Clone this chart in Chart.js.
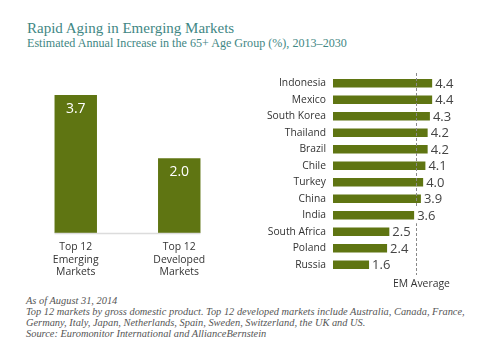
<!DOCTYPE html>
<html><head><meta charset="utf-8">
<script src="https://cdn.jsdelivr.net/npm/chart.js@4"></script>
<style>
html,body{margin:0;padding:0;background:#fff;}
body{width:493px;height:357px;position:relative;overflow:hidden;}
#title{position:absolute;left:27px;top:20px;font-family:"Liberation Serif",serif;font-size:15px;color:#3f8784;white-space:nowrap;}
#subtitle{position:absolute;left:27px;top:36px;font-family:"Liberation Serif",serif;font-size:12.1px;color:#3f8784;white-space:nowrap;}
#notes{position:absolute;left:26px;top:295px;font-family:"Liberation Serif",serif;font-style:italic;font-size:10.4px;line-height:11.1px;color:#555;white-space:nowrap;}
#c1{position:absolute;left:0;top:80px;}
#c2{position:absolute;left:250px;top:60px;}
</style></head><body>
<div id="title">Rapid Aging in Emerging Markets</div>
<div id="subtitle">Estimated Annual Increase in the 65+ Age Group (%), 2013–2030</div>
<canvas id="c1" width="250" height="203"></canvas>
<canvas id="c2" width="243" height="232"></canvas>
<div id="notes">As of August 31, 2014<br>Top 12 markets by gross domestic product. Top 12 developed markets include Australia, Canada, France,<br>Germany, Italy, Japan, Netherlands, Spain, Sweden, Switzerland, the UK and US.<br>Source: Euromonitor International and AllianceBernstein</div>
<script>
const groupLabels = [["Top 12","Emerging","Markets"],["Top 12","Developed","Markets"]];
const groupValues = [3.7, 2.0];
const countries = ["Indonesia","Mexico","South Korea","Thailand","Brazil","Chile","Turkey","China","India","South Africa","Poland","Russia"];
const countryValues = [4.4, 4.4, 4.3, 4.2, 4.2, 4.1, 4.0, 3.9, 3.6, 2.5, 2.4, 1.6];
const emAverage = 3.7;
const emAverageLabel = "EM Average";

const GREEN = "#5f7512";
const SANS = "'Open Sans', sans-serif";

const leftPlugin = {
  id: 'leftPlugin',
  afterDatasetsDraw(chart) {
    const ctx = chart.ctx;
    const meta = chart.getDatasetMeta(0);
    const y0 = chart.scales.y.getPixelForValue(0);
    const first = meta.data[0], last = meta.data[meta.data.length - 1];
    ctx.save();
    ctx.strokeStyle = "#dcdcdc";
    ctx.lineWidth = 1.5;
    ctx.beginPath();
    ctx.moveTo(first.x - first.width / 2, y0 + 0.5);
    ctx.lineTo(last.x + last.width / 2, y0 + 0.5);
    ctx.stroke();
    ctx.fillStyle = "#fff";
    ctx.font = "14px " + SANS;
    ctx.textAlign = "center";
    ctx.textBaseline = "middle";
    meta.data.forEach((bar, i) => {
      ctx.fillText(groupValues[i].toFixed(1), bar.x, bar.y + 14);
    });
    ctx.restore();
  }
};

new Chart(document.getElementById('c1'), {
  type: 'bar',
  data: { labels: groupLabels, datasets: [{ data: groupValues, backgroundColor: GREEN, barPercentage: 0.41, categoryPercentage: 1 }] },
  options: {
    responsive: false, animation: false,
    layout: { padding: { left: 24, right: 19, top: 0, bottom: 0 } },
    plugins: { legend: { display: false }, tooltip: { enabled: false } },
    scales: {
      x: { grid: { display: false, drawTicks: false }, border: { display: false },
           afterFit(s) { s.height = 50; },
           ticks: { color: "#333", font: { family: SANS, size: 10.4, lineHeight: 1.2 }, padding: 8, maxRotation: 0 } },
      y: { display: false, min: 0, max: 4.1 }
    }
  },
  plugins: [leftPlugin]
});

const rightPlugin = {
  id: 'rightPlugin',
  afterDatasetsDraw(chart) {
    const ctx = chart.ctx;
    const xs = chart.scales.x;
    const area = chart.chartArea;
    const meta = chart.getDatasetMeta(0);
    ctx.save();
    const xa = Math.round(xs.getPixelForValue(emAverage)) + 0.5;
    ctx.strokeStyle = "#888";
    ctx.lineWidth = 1;
    ctx.setLineDash([3, 2]);
    ctx.beginPath();
    ctx.moveTo(xa, area.top - 2);
    ctx.lineTo(xa, area.bottom + 2);
    ctx.stroke();
    ctx.setLineDash([]);
    ctx.fillStyle = "#333";
    ctx.font = "10.4px " + SANS;
    ctx.textAlign = "center";
    ctx.textBaseline = "middle";
    ctx.fillText(emAverageLabel, xa + 5, area.bottom + 11);
    ctx.font = "13px " + SANS;
    ctx.textAlign = "left";
    meta.data.forEach((bar, i) => {
      const t = countryValues[i].toFixed(1);
      ctx.fillStyle = "#fff";
      const w = ctx.measureText(t).width;
      ctx.fillRect(bar.x + 1, bar.y - 8, w + 4, 16);
      ctx.fillStyle = "#444";
      ctx.fillText(t, bar.x + 3, bar.y + 1);
    });
    ctx.restore();
  }
};

new Chart(document.getElementById('c2'), {
  type: 'bar',
  data: { labels: countries, datasets: [{ data: countryValues, backgroundColor: GREEN, barPercentage: 0.52, categoryPercentage: 1 }] },
  options: {
    indexAxis: 'y',
    responsive: false, animation: false,
    layout: { padding: { left: 0, right: 0, top: 15, bottom: 19 } },
    plugins: { legend: { display: false }, tooltip: { enabled: false } },
    scales: {
      x: { display: false, min: 0, max: 7.1 },
      y: { grid: { display: false, drawTicks: false }, border: { display: false },
           afterFit(s) { s.width = 83; s.paddingTop = 0; s.paddingBottom = 0; },
           ticks: { color: "#333", font: { family: SANS, size: 10.3 }, padding: 7, crossAlign: 'near' } }
    }
  },
  plugins: [rightPlugin]
});
</script>
</body></html>
